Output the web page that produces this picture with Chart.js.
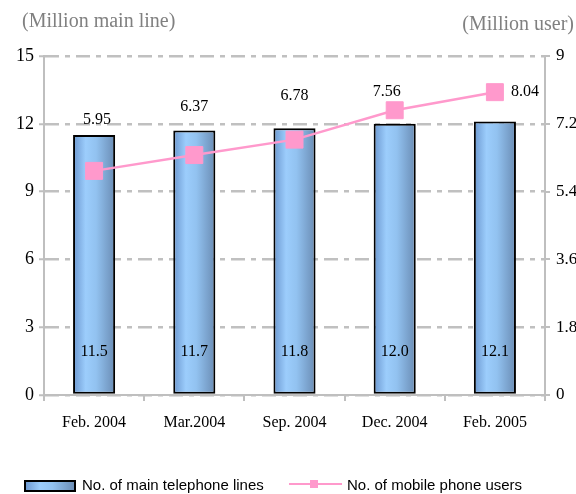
<!DOCTYPE html>
<html>
<head>
<meta charset="utf-8">
<script src="https://cdn.jsdelivr.net/npm/chart.js@4"></script>
<style>
  html, body { margin: 0; padding: 0; background: #fff; }
  #wrap { width: 576px; height: 494px; position: relative; }
</style>
</head>
<body>
<div id="wrap"><canvas id="chart" width="576" height="494"></canvas></div>
<script>
const categories = ['Feb. 2004', 'Mar.2004', 'Sep. 2004', 'Dec. 2004', 'Feb. 2005'];
const mainLines = [11.5, 11.7, 11.8, 12.0, 12.1];       // million main lines (left axis)
const mobileUsers = [5.95, 6.37, 6.78, 7.56, 8.04];     // million users (right axis)
const mainLineLabels = ['11.5', '11.7', '11.8', '12.0', '12.1'];
const mobileLabels = ['5.95', '6.37', '6.78', '7.56', '8.04'];

const seriesNames = ['No. of main telephone lines', 'No. of mobile phone users'];

// where the line value labels sit relative to their point
const lineLabelOffsets = [[3, -51], [0, -48], [0, -44], [-8, -18], [30, 0]];

const serif = '"Liberation Serif", "Times New Roman", serif';
const sans = '"Liberation Sans", Arial, sans-serif';
const axisGray = '#bfbfbf';
const pink = '#ff99cc';
const barPct = 0.42;

function barGradient(ctx, left, right) {
    const g = ctx.createLinearGradient(left, 0, right, 0);
    g.addColorStop(0, '#6b97cf');
    g.addColorStop(0.3, '#9ccdfc');
    g.addColorStop(0.55, '#92c2f0');
    g.addColorStop(1, '#6a8cb4');
    return g;
}

// scriptable fill: each bar gets its own gradient, placed from the x scale
function barFill(context) {
    const chart = context.chart;
    const xs = chart.scales.x;
    if (!xs || context.dataIndex === undefined) return '#99ccff';
    const cx = xs.getPixelForValue(context.dataIndex);
    const half = xs.width / categories.length * barPct / 2;
    if (!Number.isFinite(cx) || !Number.isFinite(half) || half <= 0) return '#99ccff';
    return barGradient(chart.ctx, cx - half, cx + half);
}

const extras = {
    id: 'extras',
    afterDraw(chart) {
        const ctx = chart.ctx;
        ctx.save();

        // axis titles
        ctx.fillStyle = '#808080';
        ctx.font = '20px ' + serif;
        ctx.textBaseline = 'middle';
        ctx.textAlign = 'left';
        ctx.fillText('(Million main line)', 22, 22);
        ctx.textAlign = 'right';
        ctx.fillText('(Million user)', 574, 25);

        // bar value labels
        ctx.fillStyle = '#000';
        ctx.font = '16px ' + serif;
        ctx.textAlign = 'center';
        const barMeta = chart.getDatasetMeta(0);
        const base = chart.scales.y.getPixelForValue(0);
        barMeta.data.forEach((bar, i) => {
            ctx.fillText(mainLineLabels[i], bar.x, base - 43);
        });

        // line value labels
        const lineMeta = chart.getDatasetMeta(1);
        lineMeta.data.forEach((pt, i) => {
            const [dx, dy] = lineLabelOffsets[i];
            ctx.fillText(mobileLabels[i], pt.x + dx, pt.y + dy);
        });

        // legend
        const ly = 486;
        ctx.fillStyle = barGradient(ctx, 25, 75);
        ctx.fillRect(25, ly - 5, 50, 10);
        ctx.strokeStyle = '#000';
        ctx.lineWidth = 2;
        ctx.strokeRect(25, ly - 5, 50, 10);

        ctx.strokeStyle = pink;
        ctx.lineWidth = 2;
        ctx.beginPath();
        ctx.moveTo(289, ly - 2);
        ctx.lineTo(342, ly - 2);
        ctx.stroke();
        ctx.fillStyle = pink;
        ctx.fillRect(310, ly - 6, 8, 8);

        ctx.fillStyle = '#000';
        ctx.font = '15px ' + sans;
        ctx.textAlign = 'left';
        ctx.fillText(seriesNames[0], 82, ly);
        ctx.fillText(seriesNames[1], 347, ly);

        ctx.restore();
    }
};

new Chart(document.getElementById('chart'), {
    type: 'bar',
    data: {
        labels: categories,
        datasets: [{
            type: 'bar',
            label: seriesNames[0],
            data: mainLines,
            yAxisID: 'y',
            backgroundColor: barFill,
            borderColor: '#000',
            borderWidth: 2,
            borderSkipped: false,
            barPercentage: barPct,
            categoryPercentage: 1,
            order: 1
        }, {
            type: 'line',
            label: seriesNames[1],
            data: mobileUsers,
            yAxisID: 'y1',
            borderColor: pink,
            borderWidth: 2.5,
            backgroundColor: pink,
            pointStyle: 'rect',
            pointRadius: 12,
            pointBorderWidth: 1,
            pointBorderColor: pink,
            pointBackgroundColor: pink,
            tension: 0,
            order: 0
        }]
    },
    options: {
        responsive: false,
        animation: false,
        events: [],
        layout: { padding: { top: 56, left: 0, right: 0, bottom: 0 } },
        plugins: {
            legend: { display: false },
            tooltip: { enabled: false }
        },
        scales: {
            x: {
                offset: true,
                afterFit(scale) { scale.height = 99; },
                grid: {
                    offset: true,
                    drawOnChartArea: false,
                    drawTicks: true,
                    tickLength: 6,
                    color: axisGray,
                    lineWidth: 2
                },
                border: { color: axisGray, width: 2 },
                ticks: {
                    color: '#000',
                    font: { family: serif, size: 16 },
                    padding: 12,
                    maxRotation: 0
                }
            },
            y: {
                position: 'left',
                min: 0,
                max: 15,
                afterFit(scale) { scale.width = 44; },
                grid: {
                    color: '#c0c0c0',
                    lineWidth: 2.5,
                    tickBorderDash: [],
                    tickLength: 5,
                    tickColor: axisGray,
                    tickWidth: 2
                },
                border: { color: axisGray, width: 2, dash: [14, 6, 5, 6] },
                ticks: {
                    stepSize: 3,
                    color: '#000',
                    font: { family: serif, size: 18 },
                    padding: 5
                }
            },
            y1: {
                position: 'right',
                min: 0,
                max: 9,
                afterFit(scale) { scale.width = 31; },
                grid: {
                    drawOnChartArea: false,
                    tickLength: 5,
                    color: axisGray,
                    lineWidth: 2
                },
                border: { color: axisGray, width: 2 },
                ticks: {
                    stepSize: 1.8,
                    color: '#000',
                    font: { family: serif, size: 17 },
                    padding: 6,
                    callback: v => String(Math.round(v * 10) / 10)
                }
            }
        }
    },
    plugins: [extras]
});
</script>
</body>
</html>
